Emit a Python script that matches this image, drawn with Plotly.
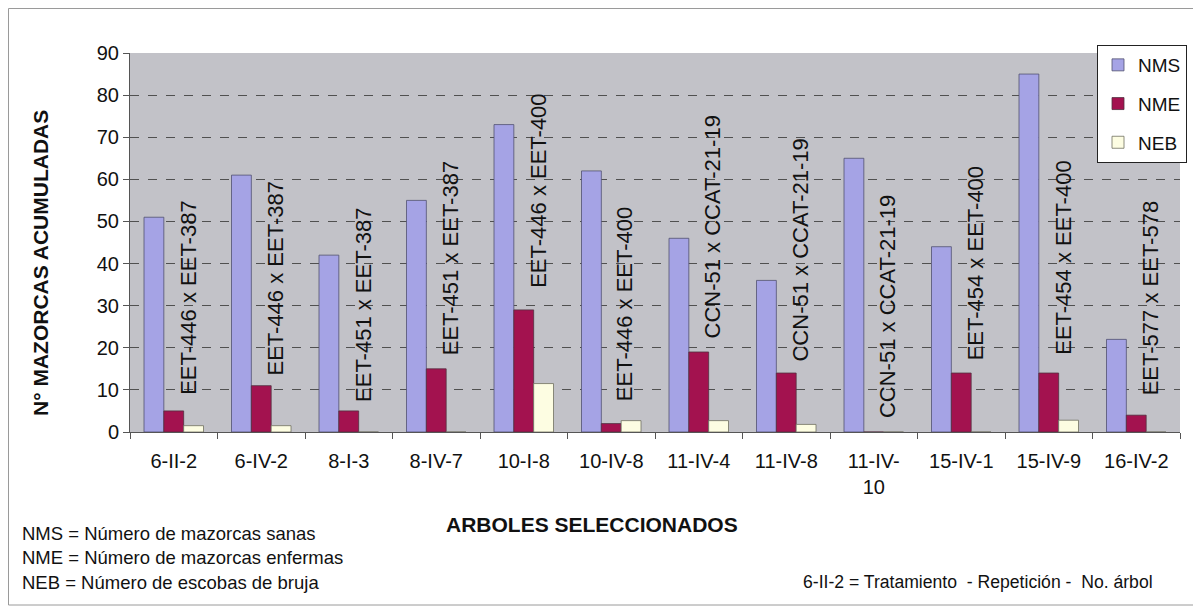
import plotly.graph_objects as go

# ---- data ----
categories = ["6-II-2", "6-IV-2", "8-I-3", "8-IV-7", "10-I-8", "10-IV-8",
              "11-IV-4", "11-IV-8", "11-IV-10", "15-IV-1", "15-IV-9", "16-IV-2"]
tick_labels = ["6-II-2", "6-IV-2", "8-I-3", "8-IV-7", "10-I-8", "10-IV-8",
               "11-IV-4", "11-IV-8", "11-IV-<br>10", "15-IV-1", "15-IV-9", "16-IV-2"]
nms = [51, 61, 42, 55, 73, 62, 46, 36, 65, 44, 85, 22]
nme = [5, 11, 5, 15, 29, 2, 19, 14, 0, 14, 14, 4]
neb = [1.5, 1.5, 0, 0, 11.5, 2.7, 2.7, 1.8, 0, 0, 2.8, 0]
crosses = ["EET-446 x EET-387", "EET-446 x EET-387", "EET-451 x EET-387",
           "EET-451 x EET-387", "EET-446 x EET-400", "EET-446 x EET-400",
           "CCN-51 x CCAT-21-19", "CCN-51 x CCAT-21-19", "CCN-51 x CCAT-21-19",
           "EET-454 x EET-400", "EET-454 x EET-400", "EET-577 x EET-578"]
cross_base = [8.3, 13, 6.6, 17.8, 33.7, 6.9, 21.8, 16.2, 2.9, 16.6, 17.8, 8.3]

# page body has an 8px margin; figure sized to fit inside the window
OFF = 8
W, H = 1193, 599
L, T = 130 - OFF, 53 - OFF
R = W - (1180 - OFF)
B = H - (432 - OFF)
pw, ph = W - L - R, H - T - B


def px(x):  # screen x -> paper
    return (x - OFF - L) / pw


def py(y):  # screen y -> paper
    return (H - B - (y - OFF)) / ph


fig = go.Figure()
fig.add_bar(name="NMS", x=categories, y=nms, marker_color="#a5a3e5",
            marker_line=dict(color="#505070", width=0.8), legendgroup="a")
fig.add_bar(name="NME", x=categories, y=nme, marker_color="#a3124f",
            marker_line=dict(color="#503040", width=0.8), legendgroup="b")
fig.add_bar(name="NEB", x=categories, y=neb, marker_color="#fdfde2",
            marker_line=dict(color="#707060", width=0.8), legendgroup="c")

font_main = "Liberation Sans, Arial, sans-serif"

for c, t, b in zip(categories, crosses, cross_base):
    fig.add_annotation(x=c, y=b, text=t, textangle=-90, showarrow=False,
                       xanchor="center", yanchor="bottom", xshift=14,
                       font=dict(size=22, color="#111", family=font_main))

# axis titles
fig.add_annotation(xref="paper", yref="paper", x=px(40), y=py(263),
                   text="<b>N° MAZORCAS ACUMULADAS</b>", textangle=-90,
                   showarrow=False, xanchor="center", yanchor="middle",
                   font=dict(size=21, color="#111", family=font_main))
fig.add_annotation(xref="paper", yref="paper", x=px(592), y=py(524),
                   text="<b>ARBOLES SELECCIONADOS</b>",
                   showarrow=False, xanchor="center", yanchor="middle",
                   font=dict(size=21, color="#111", family=font_main))

notes = ["NMS = Número de mazorcas sanas",
         "NME = Número de mazorcas enfermas",
         "NEB = Número de escobas de bruja"]
for i, n in enumerate(notes):
    fig.add_annotation(xref="paper", yref="paper", x=px(20), y=py(533 + 24.5 * i),
                       text=n, showarrow=False, xanchor="left", yanchor="middle",
                       font=dict(size=18.5, color="#111", family=font_main))
fig.add_annotation(xref="paper", yref="paper", x=px(1155), y=py(582),
                   text="6-II-2 = Tratamiento \u00a0- Repetición - \u00a0No. árbol",
                   showarrow=False, xanchor="right", yanchor="middle",
                   font=dict(size=17.6, color="#111", family=font_main))

# outer frame
fig.add_shape(type="rect", xref="paper", yref="paper",
              x0=px(8.5), x1=px(1198), y0=py(605), y1=py(8.5),
              line=dict(color="#9a9a9a", width=1), fillcolor="rgba(0,0,0,0)",
              layer="below")

fig.update_layout(
    width=W, height=H,
    margin=dict(l=L, r=R, t=T, b=B),
    paper_bgcolor="white",
    plot_bgcolor="#c2c2c8",
    barmode="group", bargap=0.32, bargroupgap=0,
    font=dict(family=font_main, color="#111"),
    legend=dict(x=px(1097), y=py(45), xanchor="left", yanchor="top",
                bgcolor="white", bordercolor="#222", borderwidth=1,
                font=dict(size=19, color="#111", family=font_main),
                tracegroupgap=11, traceorder="grouped", itemwidth=30),
    showlegend=True,
)
fig.update_xaxes(type="category", tickmode="array", tickvals=categories,
                 ticktext=tick_labels, tickson="boundaries", ticks="outside",
                 ticklen=6, tickcolor="#555", showline=True, linecolor="#555",
                 tickfont=dict(size=20, color="#111"), ticklabelstandoff=11,
                 showgrid=False)
fig.update_yaxes(range=[0, 90], dtick=10, ticks="outside", ticklen=6,
                 tickcolor="#555", showline=True, linecolor="#555",
                 tickfont=dict(size=20, color="#111"),
                 showgrid=True, gridcolor="#505050", griddash="dash", gridwidth=1,
                 zeroline=False)

fig.write_html("out.html")
